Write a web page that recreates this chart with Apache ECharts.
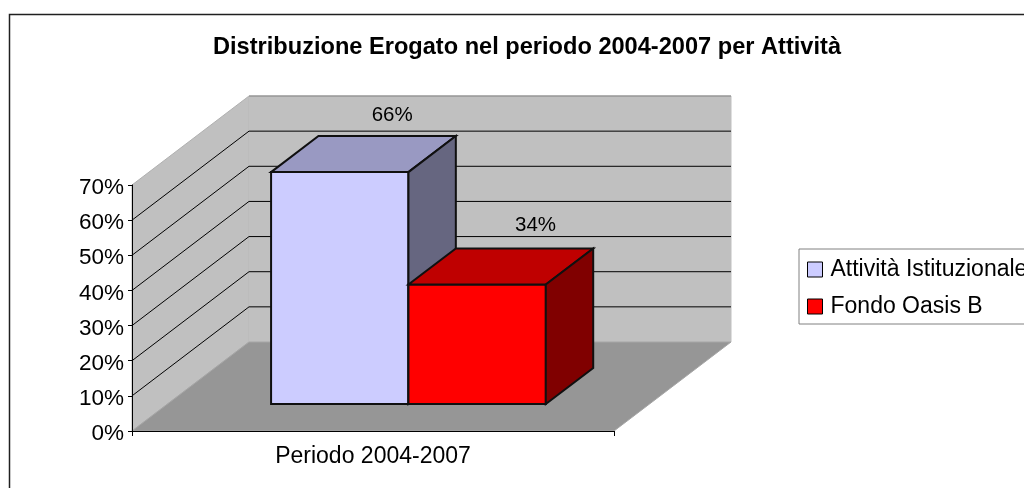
<!DOCTYPE html>
<html>
<head>
<meta charset="utf-8">
<title>Distribuzione Erogato</title>
<script src="https://cdn.jsdelivr.net/npm/echarts@6/dist/echarts.min.js"></script>
<style>
    html, body { margin: 0; padding: 0; background: #fff; overflow: hidden; }
    #main { width: 1024px; height: 488px; }
</style>
</head>
<body>
<div id="main"></div>
<script>
// dati
var categories = ['Periodo 2004-2007'];
var seriesNames = ['Attività Istituzionale', 'Fondo Oasis B'];
var attivitaValues = [66];
var fondoValues = [34];
var yTicks = [10, 20, 30, 40, 50, 60];

// stile delle barre: fronte, tetto, fianco
var blueFaces = ['#ccccff', '#9999c2', '#666680'];
var redFaces = ['#ff0000', '#bf0000', '#800000'];

// proiezione finta 3D: spostamento da piano frontale a parete di fondo
var depthX = 117, depthY = -89;
var barStart = 0.303, barDepth = 0.405, barShare = 0.285;
var fontName = '"Liberation Sans", Arial, sans-serif';

function back(pt, f) {
    return [pt[0] + depthX * f, pt[1] + depthY * f];
}

function poly(points, fill, stroke, width) {
    return {
        type: 'polygon',
        shape: { points: points },
        style: { fill: fill, stroke: stroke, lineWidth: width || 1 }
    };
}

// pareti e pavimento
function renderWalls(params, api) {
    var bl = api.coord([0, 0]);
    bl[0] = params.coordSys.x;
    var tl = [bl[0], api.coord([0, 70])[1]];
    var br = [bl[0] + params.coordSys.width, bl[1]];
    var tr = [br[0], tl[1]];
    return {
        type: 'group',
        children: [
            poly([bl, tl, back(tl, 1), back(bl, 1)], '#c0c0c0', '#b0b0b0'),
            poly([back(bl, 1), back(tl, 1), back(tr, 1), back(br, 1)], '#c0c0c0', '#c0c0c0'),
            poly([bl, back(bl, 1), back(br, 1), br], '#969696', '#a6a6a6'),
            {
                type: 'polyline',
                shape: { points: [back(tl, 1), back(tr, 1)] },
                style: { fill: null, stroke: '#808080', lineWidth: 1 }
            }
        ]
    };
}

function renderGridLine(params, api) {
    var y = api.coord([0, api.value(0)])[1];
    var left = [params.coordSys.x, y];
    var right = [params.coordSys.x + params.coordSys.width, y];
    return {
        type: 'polyline',
        shape: { points: [left, back(left, 1), back(right, 1)] },
        style: { fill: null, stroke: '#000', lineWidth: 1 }
    };
}

function barRenderer(side, faces, labelDx, labelDy) {
    return function (params, api) {
        var base = api.coord([api.value(0), 0]);
        var top = api.coord([api.value(0), api.value(1)]);
        var w = api.size([1, 0])[0] * barShare;
        var x0 = base[0] + side * w;
        var a = back([x0, base[1]], barStart);
        var b = back([x0 + w, base[1]], barStart);
        var c = back([x0 + w, top[1]], barStart);
        var d = back([x0, top[1]], barStart);
        var stroke = '#101010';
        return {
            type: 'group',
            children: [
                poly([a, b, c, d], faces[0], stroke, 2),
                poly([d, c, back(c, barDepth), back(d, barDepth)], faces[1], stroke, 2),
                poly([b, back(b, barDepth), back(c, barDepth), c], faces[2], stroke, 2),
                {
                    type: 'text',
                    style: {
                        text: api.value(1) + '%',
                        x: (back(d, barDepth)[0] + back(c, barDepth)[0]) / 2 + labelDx,
                        y: back(d, barDepth)[1] + labelDy,
                        align: 'center',
                        verticalAlign: 'middle',
                        fill: '#000',
                        font: '20.5px ' + fontName
                    }
                }
            ]
        };
    };
}

var chart = echarts.init(document.getElementById('main'));
var option = {
    animation: false,
    backgroundColor: '#fff',
    title: {
        text: 'Distribuzione Erogato nel periodo 2004-2007 per Attività',
        left: 522,
        top: 30.5,
        textAlign: 'center',
        textStyle: { fontFamily: fontName, fontSize: 23.6, fontWeight: 'bold', color: '#000' }
    },
    grid: { left: 132, top: 185, width: 482, height: 246 },
    legend: {
        data: seriesNames,
        orient: 'vertical',
        left: 799,
        top: 249,
        padding: [9, 30, 6, 8],
        itemWidth: 15,
        itemHeight: 15,
        itemGap: 14,
        icon: 'rect',
        borderColor: '#808080',
        borderWidth: 1,
        itemStyle: { borderColor: '#000', borderWidth: 1 },
        textStyle: { fontFamily: fontName, fontSize: 23, color: '#000', padding: [0, 0, 0, 3] }
    },
    xAxis: {
        type: 'category',
        data: categories,
        z: 10,
        axisLine: { lineStyle: { color: '#000', width: 1 } },
        axisTick: { show: true, length: 5, lineStyle: { color: '#000' } },
        axisLabel: { fontFamily: fontName, fontSize: 23, color: '#000', margin: 14 }
    },
    yAxis: {
        type: 'value',
        min: 0,
        max: 70,
        interval: 10,
        z: 10,
        axisLine: { show: true, lineStyle: { color: '#000', width: 1 } },
        axisTick: { show: true, length: 4, lineStyle: { color: '#000' } },
        splitLine: { show: false },
        axisLabel: {
            formatter: '{t|{value}%}',
            margin: 8,
            rich: {
                t: { fontFamily: fontName, fontSize: 22.5, color: '#000', padding: [6, 0, 0, 0] }
            }
        }
    },
    series: [
        {
            type: 'custom',
            silent: true,
            z: 1,
            clip: false,
            data: [[0, 0]],
            renderItem: renderWalls
        },
        {
            type: 'custom',
            silent: true,
            z: 2,
            clip: false,
            data: yTicks.map(function (t) { return [t]; }),
            encode: { y: 0 },
            renderItem: renderGridLine
        },
        {
            name: seriesNames[0],
            type: 'custom',
            z: 3,
            clip: false,
            itemStyle: { color: blueFaces[0] },
            data: categories.map(function (c, i) { return [i, attivitaValues[i]]; }),
            encode: { x: 0, y: 1 },
            renderItem: barRenderer(-1, blueFaces, 5, -21)
        },
        {
            name: seriesNames[1],
            type: 'custom',
            z: 4,
            clip: false,
            itemStyle: { color: redFaces[0] },
            data: categories.map(function (c, i) { return [i, fondoValues[i]]; }),
            encode: { x: 0, y: 1 },
            renderItem: barRenderer(0, redFaces, 11, -23)
        }
    ],
    graphic: [
        // cornice: destra e fondo restano fuori dall'immagine
        {
            type: 'polyline',
            shape: { points: [[9.5, 488], [9.5, 14.5], [1024, 14.5]] },
            style: { fill: null, stroke: '#202020', lineWidth: 1.5 }
        }
    ]
};
chart.setOption(option);
</script>
</body>
</html>
